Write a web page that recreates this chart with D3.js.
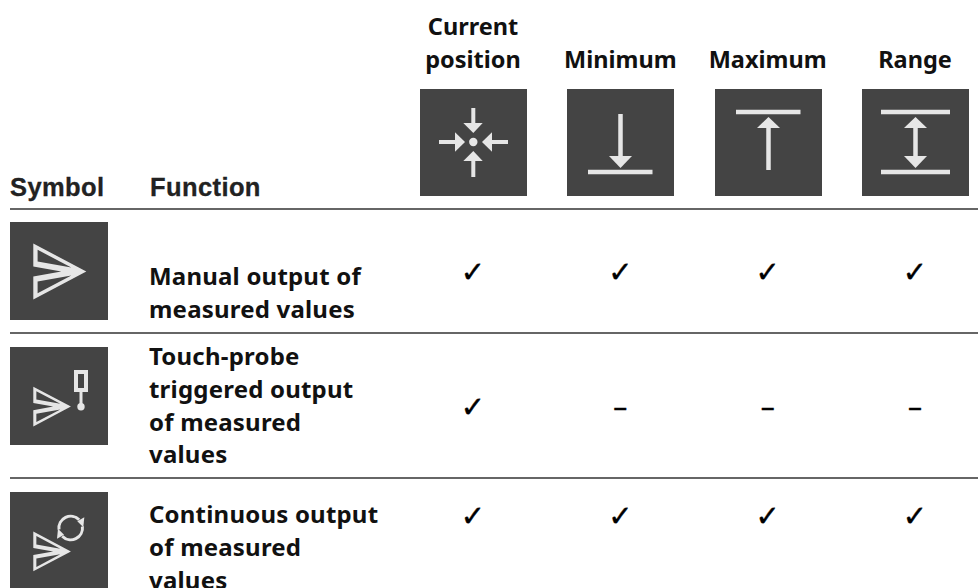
<!DOCTYPE html>
<html>
<head>
<meta charset="utf-8">
<script src="https://cdnjs.cloudflare.com/ajax/libs/d3/7.8.5/d3.min.js"></script>
<style>
    body { margin: 0; background: #fff; overflow: hidden; }
    text { fill: #111; }
    .col-text { font-family: "Noto Sans", sans-serif; font-weight: 700; font-size: 23.5px; }
    .row-text { font-family: "Noto Sans", sans-serif; font-weight: 700; font-size: 24px; letter-spacing: 0.2px; }
    .head-text { font-family: "Liberation Sans", sans-serif; font-weight: 700; font-size: 25.5px; letter-spacing: 0.4px; fill: #222; stroke: #222; stroke-width: 0.3px; }
    .mark-text { font-family: "DejaVu Sans", sans-serif; font-size: 29px; fill: #000; stroke: #000; stroke-width: 0.4px; }
</style>
</head>
<body>
<div id="table"></div>
<script>
    // Table content
    const columns = ["position", "minimum", "maximum", "range"];
    const columnLabels = [["Current", "position"], ["Minimum"], ["Maximum"], ["Range"]];
    const headerLabels = ["Symbol", "Function"];
    const rowNames = ["manual", "probe", "continuous"];
    const rowLabels = [
        ["Manual output of", "measured values"],
        ["Touch-probe", "triggered output", "of measured", "values"],
        ["Continuous output", "of measured", "values"]
    ];
    const manualMarks = [1, 1, 1, 1];
    const probeMarks = [1, 0, 0, 0];
    const continuousMarks = [1, 1, 1, 1];

    const width = 978, height = 588;
    const darkGrey = "#444444", lightGrey = "#e6e6e6";

    const svg = d3.select("#table").append("svg")
        .attr("width", width)
        .attr("height", height);

    // Scales for the grid
    const x = d3.scalePoint().domain(columns).range([473, 915]);
    const yMark = d3.scaleOrdinal().domain(rowNames).range([272, 407, 516]);
    const yIcon = d3.scaleOrdinal().domain(rowNames).range([222, 347, 492]);
    const yText = d3.scaleOrdinal().domain(rowNames).range([285, 365, 523]);

    // Header
    svg.selectAll(".head").data(headerLabels).enter().append("text")
        .attr("class", "head-text")
        .attr("x", (d, i) => i === 0 ? 10 : 150)
        .attr("y", 196)
        .text(d => d);

    columnLabels.forEach((lines, i) => {
        svg.selectAll(null).data(lines).enter().append("text")
            .attr("class", "col-text")
            .attr("text-anchor", "middle")
            .attr("x", x(columns[i]))
            .attr("y", (d, j) => 68 - (lines.length - 1 - j) * 33)
            .text(d => d);
    });

    // Rules
    svg.selectAll(".rule").data([209, 333, 478]).enter().append("line")
        .attr("x1", 10).attr("x2", width)
        .attr("y1", d => d).attr("y2", d => d)
        .attr("stroke", "#333").attr("stroke-width", 1.5);

    // Icon helpers, all drawn in a local box
    function iconBox(xPos, yPos, size) {
        const g = svg.append("g").attr("transform", `translate(${xPos}, ${yPos})`);
        g.append("rect").attr("width", size).attr("height", size).attr("fill", darkGrey);
        return g;
    }
    function bar(g, x1, y1, x2, y2, w) {
        g.append("line").attr("x1", x1).attr("y1", y1).attr("x2", x2).attr("y2", y2)
            .attr("stroke", lightGrey).attr("stroke-width", w);
    }
    function head(g, points) {
        g.append("polygon").attr("points", points).attr("fill", lightGrey);
    }
    function sendArrow(g, scale, dx, dy) {
        g.append("path")
            .attr("transform", `translate(${dx}, ${dy}) scale(${scale})`)
            .attr("fill-rule", "evenodd")
            .attr("fill", lightGrey)
            .attr("d", "M0,0 L53,28 L0,56 L0,33 L28,28 L0,23 Z " +
                "M4.3,6.3 L38,24 L4.3,18 Z M4.3,49.7 L38,32 L4.3,38 Z");
    }

    // Column icons
    const iconSize = 107;
    const iconLeft = [420, 567, 715, 862];
    const iconTop = 89;

    let g = iconBox(iconLeft[0], iconTop, iconSize);
    bar(g, 53.3, 19, 53.3, 40, 4);
    head(g, "43.3,34 62.7,34 53.3,44");
    bar(g, 53.3, 88, 53.3, 67, 4);
    head(g, "43.3,72 62.7,72 53.3,62");
    bar(g, 19, 53, 40, 53, 4);
    head(g, "35,43.3 35,62.7 45,53");
    bar(g, 88, 53, 67, 53, 4);
    head(g, "72,43.3 72,62.7 62,53");
    g.append("circle").attr("cx", 53.3).attr("cy", 53).attr("r", 4.2).attr("fill", lightGrey);

    g = iconBox(iconLeft[1], iconTop, iconSize);
    bar(g, 53.5, 25, 53.5, 70, 4.5);
    head(g, "42,67 65,67 53.5,79");
    bar(g, 21, 83, 85.5, 83, 4.5);

    g = iconBox(iconLeft[2], iconTop, iconSize);
    bar(g, 21, 23, 85.5, 23, 4.5);
    head(g, "42,39 65,39 53.5,28");
    bar(g, 53.5, 37, 53.5, 81, 4.5);

    g = iconBox(iconLeft[3], iconTop, iconSize);
    bar(g, 19, 23, 88, 23, 4.5);
    bar(g, 19, 83, 88, 83, 4.5);
    head(g, "42,39 65,39 53.5,28");
    head(g, "42,67 65,67 53.5,79");
    bar(g, 53.5, 37, 53.5, 69, 4.5);

    // Row icons
    const rowIconLeft = 10, rowIconSize = 98;

    g = iconBox(rowIconLeft, yIcon("manual"), rowIconSize);
    sendArrow(g, 1.0, 23.3, 21.5);

    g = iconBox(rowIconLeft, yIcon("probe"), rowIconSize);
    sendArrow(g, 0.71, 23.3, 39.7);
    g.append("rect").attr("x", 66).attr("y", 25).attr("width", 10).attr("height", 18)
        .attr("fill", "none").attr("stroke", lightGrey).attr("stroke-width", 4);
    bar(g, 71, 45, 71, 60, 3);
    g.append("circle").attr("cx", 71).attr("cy", 59.7).attr("r", 3.7).attr("fill", lightGrey);

    g = iconBox(rowIconLeft, yIcon("continuous"), rowIconSize);
    sendArrow(g, 0.71, 23.3, 39.6);
    const arcGen = d3.arc().innerRadius(10.3).outerRadius(13.3);
    const spin = g.append("g").attr("transform", "translate(60.7, 36)");
    spin.append("path").attr("d", arcGen({ startAngle: -1.7, endAngle: 0.8 })).attr("fill", lightGrey);
    spin.append("path").attr("d", arcGen({ startAngle: 1.44, endAngle: 3.94 })).attr("fill", lightGrey);
    head(g, "67.3,29.3 74.3,25.3 73.3,35.3");
    head(g, "54,42.7 47,46.7 48,36.7");

    // Row labels
    rowNames.forEach((name, i) => {
        svg.selectAll(null).data(rowLabels[i]).enter().append("text")
            .attr("class", "row-text")
            .attr("x", 149)
            .attr("y", (d, j) => yText(name) + j * 32.8)
            .text(d => d);
    });

    // Check marks and dashes
    const rowMarks = [manualMarks, probeMarks, continuousMarks];
    rowNames.forEach((name, i) => {
        svg.selectAll(null).data(rowMarks[i]).enter().append("text")
            .attr("class", "mark-text")
            .attr("text-anchor", "middle")
            .attr("dominant-baseline", "central")
            .attr("x", (d, j) => x(columns[j]))
            .attr("y", yMark(name))
            .text(d => d ? "\u2713" : "\u2013");
    });
</script>
</body>
</html>
